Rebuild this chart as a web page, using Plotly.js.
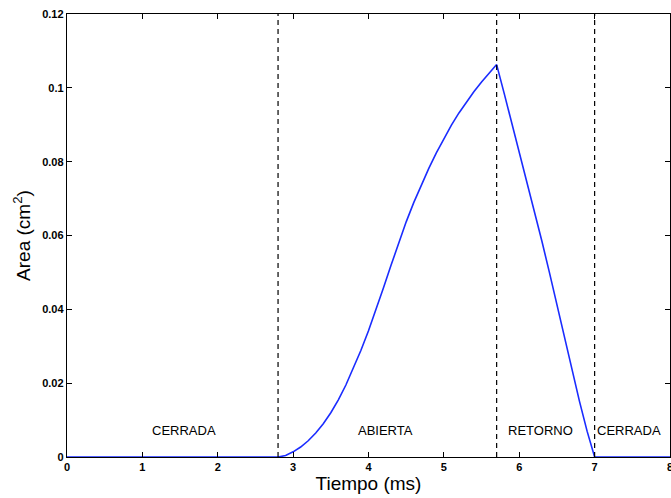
<!DOCTYPE html>
<html>
<head>
<meta charset="utf-8">
<script src="https://cdn.plot.ly/plotly-3.0.1.min.js"></script>
<style>
  html, body { margin: 0; padding: 0; background: #fff; }
  #chart { width: 671px; height: 498px; }
</style>
</head>
<body>
<div id="chart"></div>
<script>
// Valve opening area over one cycle
const tiempo = [0, 2.8, 2.9, 3.0, 3.1, 3.2, 3.3, 3.4, 3.5, 3.6, 3.7, 3.8, 3.9, 4.0,
                4.1, 4.2, 4.3, 4.4, 4.5, 4.6, 4.7, 4.8, 4.9, 5.0, 5.1, 5.2, 5.3,
                5.4, 5.5, 5.6, 5.7, 5.8, 5.9, 6.0, 6.1, 6.2, 6.3, 6.4, 6.5, 6.6,
                6.7, 6.8, 6.9, 7.0, 8];
const area = [0, 0, 0.0004, 0.0014, 0.0027, 0.0044, 0.0065, 0.0090, 0.0120, 0.0155,
              0.0195, 0.0240, 0.0289, 0.0342, 0.0399, 0.0459, 0.0520, 0.0580, 0.0637,
              0.0689, 0.0737, 0.0782, 0.0824, 0.0863, 0.0899, 0.0932, 0.0962, 0.0990,
              0.1016, 0.1040, 0.1063, 0.0985, 0.0905, 0.0828, 0.0750, 0.0668, 0.0585,
              0.0500, 0.0413, 0.0323, 0.0235, 0.0150, 0.0070, 0, 0];

// Phase boundaries (ms) and phase names
const limites = [2.8, 5.7, 7.0];
const fases = ["CERRADA", "ABIERTA", "RETORNO", "CERRADA"];
const faseX = [1.55, 4.23, 6.28, 7.46];
const faseY = [0.0072, 0.0072, 0.0072, 0.0072];

const xTicks = [0, 1, 2, 3, 4, 5, 6, 7, 8];
const yTicks = [0, 0.02, 0.04, 0.06, 0.08, 0.1, 0.12];
const yTickText = ["0", "0.02", "0.04", "0.06", "0.08", "0.1", "0.12"];

const FONT = "Liberation Sans, Arial, Helvetica, sans-serif";

const traces = [{
  x: tiempo, y: area, type: "scatter", mode: "lines",
  line: { color: "#1a2cff", width: 1.6 },
  hoverinfo: "x+y"
}];

const shapes = limites.map(v => ({
  type: "line", xref: "x", yref: "y", x0: v, x1: v, y0: 0, y1: 0.12,
  line: { color: "#000", width: 1.2, dash: "5px,4px" }
}));

const annotations = fases.map((t, i) => ({
  x: faseX[i], y: faseY[i], xref: "x", yref: "y", text: t, showarrow: false,
  font: { family: FONT, size: 13, color: "#000" }
}));

const tickFont = { family: FONT, size: 11, color: "#000", weight: 700 };

const layout = {
  width: 671, height: 498,
  margin: { l: 67, r: 1, t: 14, b: 41 },
  paper_bgcolor: "#fff", plot_bgcolor: "#fff",
  showlegend: false,
  xaxis: {
    range: [0, 8], tickvals: xTicks, ticks: "inside", ticklen: 5, tickwidth: 1,
    tickcolor: "#000", showline: true, linecolor: "#000", linewidth: 1.2, mirror: "ticks",
    showgrid: false, zeroline: false, tickfont: tickFont, ticklabeloverflow: "allow",
    automargin: false,
    title: { text: "Tiempo (ms)", standoff: 3,
      font: { family: FONT, size: 19, color: "#000" } }
  },
  yaxis: {
    range: [0, 0.12], tickvals: yTicks, ticktext: yTickText, ticks: "inside", ticklen: 5,
    tickwidth: 1, tickcolor: "#000", showline: true, linecolor: "#000", linewidth: 1.2,
    mirror: "ticks", showgrid: false, zeroline: false, tickfont: tickFont,
    title: { text: "Area (cm<sup>2</sup>)", standoff: 6,
      font: { family: FONT, size: 19, color: "#000" } }
  },
  shapes: shapes,
  annotations: annotations
};

Plotly.newPlot("chart", traces, layout, { displayModeBar: false, staticPlot: true });
</script>
</body>
</html>
